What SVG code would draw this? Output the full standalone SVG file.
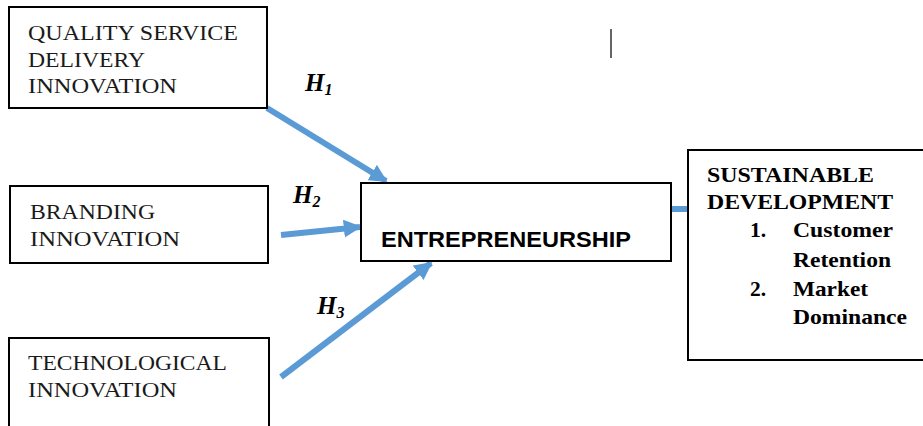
<svg xmlns="http://www.w3.org/2000/svg" width="923" height="426" viewBox="0 0 923 426">
<style>
.box{fill:#fff;stroke:#000;stroke-width:2}
.t{font-family:"Liberation Serif","Times New Roman",serif;font-size:21px;fill:#1a1a1a}
.tb{font-family:"Liberation Serif","Times New Roman",serif;font-size:21.5px;font-weight:bold;fill:#000}
.h{font-family:"Liberation Serif","Times New Roman",serif;font-size:25px;font-weight:bold;font-style:italic;fill:#000}
.hs{font-size:16px}
.ent{font-family:"Liberation Sans",Arial,sans-serif;font-size:21.5px;font-weight:bold;fill:#000}
.arr{stroke:#5B9BD5;stroke-width:6;fill:none}
</style>
<defs>
<marker id="ah" viewBox="0 0 10 10" refX="9" refY="5" markerWidth="3" markerHeight="3" orient="auto" markerUnits="strokeWidth">
<path d="M0,0 L10,5 L0,10 z" fill="#5B9BD5"/>
</marker>
</defs>
<rect width="923" height="426" fill="#fff"/>
<g id="connectors">
<line class="arr" x1="267" y1="108" x2="386" y2="181" marker-end="url(#ah)"/>
<line class="arr" x1="281" y1="235" x2="360" y2="227" marker-end="url(#ah)"/>
<line class="arr" x1="281" y1="377" x2="431" y2="263" marker-end="url(#ah)"/>
<line class="arr" x1="671" y1="209" x2="688" y2="209"/>
<line x1="611" y1="29" x2="611" y2="58" stroke="#333" stroke-width="1.5"/>
</g>
<g id="labels">
<text class="h" x="305" y="91">H<tspan class="hs" dy="4">1</tspan></text>
<text class="h" x="293" y="203">H<tspan class="hs" dy="4">2</tspan></text>
<text class="h" x="317" y="314">H<tspan class="hs" dy="4">3</tspan></text>
</g>
<g id="quality">
<rect class="box" x="9" y="7" width="258" height="101"/>
<text class="t" x="28" y="40" textLength="210" lengthAdjust="spacingAndGlyphs">QUALITY SERVICE</text>
<text class="t" x="28" y="67" textLength="117" lengthAdjust="spacingAndGlyphs">DELIVERY</text>
<text class="t" x="28" y="93" textLength="149" lengthAdjust="spacingAndGlyphs">INNOVATION</text>
</g>
<g id="branding">
<rect class="box" x="10" y="186" width="258" height="77"/>
<text class="t" x="30" y="219" textLength="125" lengthAdjust="spacingAndGlyphs">BRANDING</text>
<text class="t" x="30" y="246" textLength="150" lengthAdjust="spacingAndGlyphs">INNOVATION</text>
</g>
<g id="technological">
<rect class="box" x="9" y="338" width="260" height="100"/>
<text class="t" x="28" y="370" textLength="199" lengthAdjust="spacingAndGlyphs">TECHNOLOGICAL</text>
<text class="t" x="28" y="397" textLength="149" lengthAdjust="spacingAndGlyphs">INNOVATION</text>
</g>
<g id="entrepreneurship">
<rect class="box" x="361" y="183" width="310" height="78"/>
<text class="ent" x="381" y="247" textLength="250" lengthAdjust="spacingAndGlyphs">ENTREPRENEURSHIP</text>
</g>
<g id="sustainable">
<rect class="box" x="688" y="150" width="245" height="210"/>
<text class="tb" x="707" y="182" textLength="167" lengthAdjust="spacingAndGlyphs">SUSTAINABLE</text>
<text class="tb" x="707" y="209" textLength="186" lengthAdjust="spacingAndGlyphs">DEVELOPMENT</text>
<text class="tb" x="750" y="237">1.</text>
<text class="tb" x="793" y="237" textLength="100" lengthAdjust="spacingAndGlyphs">Customer</text>
<text class="tb" x="793" y="267" textLength="98" lengthAdjust="spacingAndGlyphs">Retention</text>
<text class="tb" x="750" y="296">2.</text>
<text class="tb" x="793" y="296" textLength="75" lengthAdjust="spacingAndGlyphs">Market</text>
<text class="tb" x="793" y="324" textLength="114" lengthAdjust="spacingAndGlyphs">Dominance</text>
</g>
</svg>
